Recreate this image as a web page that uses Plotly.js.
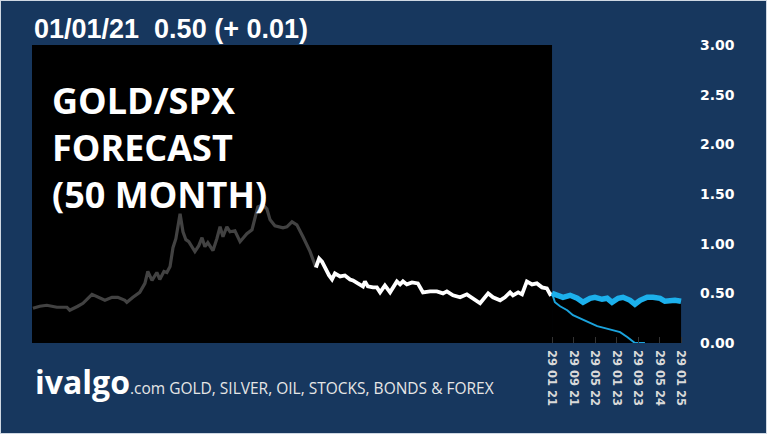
<!DOCTYPE html>
<html><head><meta charset="utf-8">
<script src="https://cdn.plot.ly/plotly-3.0.1.min.js"></script>
<style>html,body{margin:0;padding:0;background:#17375e;}#wrap{width:767px;height:434px;box-sizing:border-box;border:1px solid #cfd8e3;background:#17375e;}#chart{width:765px;height:432px;}</style>
</head><body><div id="wrap"><div id="chart"></div></div>
<script>
// decimal-year time stamps and GOLD/SPX ratio values
const histEarlyT = [2004.91,2005.12,2005.34,2005.65,2005.96,2006.05,2006.30,2006.46,2006.74,2006.92,2007.14,2007.36,2007.54,2007.76,2007.82,2008.01,2008.22,2008.38,2008.47,2008.60,2008.75,2008.84,2008.97,2009.06,2009.16,2009.25,2009.34,2009.47,2009.56,2009.65,2009.74,2009.93,2010.05,2010.15,2010.24,2010.33,2010.49,2010.61,2010.71,2010.80,2010.92,2011.02,2011.17,2011.33,2011.45,2011.54,2011.70,2011.79,2011.88,2012.04,2012.16,2012.26,2012.41,2012.66,2012.78,2012.94,2013.09,2013.28,2013.40,2013.50,2013.59,2013.68];
const histEarlyV = [0.35,0.37,0.38,0.36,0.36,0.33,0.37,0.40,0.49,0.46,0.43,0.46,0.46,0.43,0.41,0.46,0.51,0.60,0.72,0.63,0.71,0.64,0.72,0.71,0.77,0.96,1.05,1.30,1.12,1.04,1.02,0.92,0.98,1.06,0.97,1.01,0.93,1.05,1.17,1.07,1.17,1.12,1.13,1.02,1.06,1.10,1.14,1.27,1.37,1.39,1.35,1.24,1.18,1.16,1.17,1.22,1.19,1.07,0.99,0.92,0.84,0.76];
const histLateT = [2013.68,2013.78,2013.87,2013.96,2014.09,2014.18,2014.27,2014.43,2014.58,2014.74,2014.83,2014.98,2015.14,2015.20,2015.29,2015.45,2015.57,2015.67,2015.82,2015.98,2016.10,2016.19,2016.29,2016.38,2016.50,2016.66,2016.84,2017.00,2017.22,2017.43,2017.62,2017.74,2017.93,2018.15,2018.36,2018.55,2018.77,2019.02,2019.17,2019.39,2019.54,2019.70,2019.79,2019.95,2020.07,2020.22,2020.38,2020.53,2020.69,2020.84,2020.94,2021.00];
const histLateV = [0.76,0.85,0.82,0.76,0.68,0.64,0.70,0.67,0.68,0.64,0.63,0.60,0.57,0.62,0.57,0.56,0.56,0.51,0.58,0.51,0.57,0.62,0.59,0.62,0.59,0.61,0.60,0.51,0.52,0.52,0.50,0.52,0.48,0.46,0.49,0.45,0.40,0.50,0.46,0.43,0.46,0.51,0.48,0.51,0.49,0.62,0.59,0.60,0.56,0.55,0.49,0.50];
const fcUpperT = [2021.00,2021.19,2021.34,2021.56,2021.78,2021.96,2022.18,2022.33,2022.55,2022.71,2022.86,2023.05,2023.20,2023.42,2023.57,2023.73,2023.95,2024.13,2024.35,2024.50,2024.66,2024.81,2025.00];
const fcUpperV = [0.50,0.48,0.46,0.48,0.45,0.41,0.45,0.46,0.44,0.45,0.41,0.45,0.46,0.43,0.39,0.43,0.46,0.46,0.45,0.42,0.43,0.43,0.42];
const fcLowerT = [2021.00,2021.09,2021.25,2021.47,2021.65,2021.93,2022.18,2022.40,2022.64,2022.86,2023.11,2023.33,2023.57,2023.88];
const fcLowerV = [0.50,0.41,0.37,0.33,0.28,0.24,0.20,0.17,0.15,0.13,0.11,0.06,0.00,0.00];
const xTickVals = [2021.0,2021.667,2022.333,2023.0,2023.667,2024.333,2025.0];
const xTickText = ['29 01 21','29 09 21','29 05 22','29 01 23','29 09 23','29 05 24','29 01 25'];
const yTickVals = [0,0.5,1,1.5,2,2.5,3];
const yTickText = ['0.00','0.50','1.00','1.50','2.00','2.50','3.00'];
const xStart = 2004.88, xEnd = 2025.06, forecastStart = 2021.0;

const traces = [
  {x: fcUpperT, y: fcUpperV, mode:'lines', fill:'tozeroy', fillcolor:'#000000', line:{width:0, color:'rgba(0,0,0,0)'}, hoverinfo:'skip', showlegend:false},
  {x: histEarlyT, y: histEarlyV, mode:'lines', line:{color:'#424242', width:3.2}, showlegend:false},
  {x: histLateT, y: histLateV, mode:'lines', line:{color:'#ffffff', width:3.8}, showlegend:false},
  {x: fcLowerT, y: fcLowerV, mode:'lines', line:{color:'#1ba3dc', width:2}, showlegend:false},
  {x: fcUpperT, y: fcUpperV, mode:'lines', line:{color:'#1cb0ec', width:5.5}, showlegend:false}
];
const layout = {
  width:765, height:432,
  margin:{l:31, r:83, t:44, b:90},
  paper_bgcolor:'#17375e', plot_bgcolor:'#17375e',
  showlegend:false,
  xaxis:{type:'linear', range:[xStart,xEnd], tickvals:xTickVals, ticktext:xTickText, tickangle:90,
    tickfont:{family:'DejaVu Sans', size:11.5, color:'#d9d9d9', weight:700},
    showgrid:false, zeroline:false, showline:false, ticks:'inside', ticklen:6, tickcolor:'#333333',
    ticklabelstandoff:6, fixedrange:true},
  yaxis:{range:[0,3], side:'right', tickvals:yTickVals, ticktext:yTickText,
    tickfont:{family:'DejaVu Sans', size:14, color:'#ffffff', weight:700},
    showgrid:false, zeroline:false, showline:false, ticks:'', ticklabelstandoff:16, fixedrange:true},
  shapes:[{type:'rect', xref:'x', yref:'paper', x0:xStart, x1:forecastStart, y0:0, y1:1, fillcolor:'#000000', line:{width:0}, layer:'below'}],
  annotations:[
    {xref:'paper', yref:'paper', x:0.0, y:1.055, xanchor:'left', yanchor:'middle', showarrow:false,
     text:'01/01/21&nbsp;&nbsp;0.50 (+ 0.01)', font:{family:'Liberation Sans', size:27, color:'#ffffff', weight:700}},
    {xref:'paper', yref:'paper', x:0.027, y:(342-146)/298, xanchor:'left', yanchor:'middle', align:'left', showarrow:false,
     text:'GOLD/SPX<br>FORECAST<br>(50 MONTH)', font:{family:'Open Sans', size:36, color:'#ffffff', weight:700}},
    {xref:'paper', yref:'paper', x:(32-31)/651, y:(342-380)/298, xanchor:'left', yanchor:'middle', showarrow:false,
     text:'<b><span style="font-size:32px">ivalgo</span></b><span style="font-size:15.5px;color:#e6e6e6">.com GOLD, SILVER, OIL, STOCKS, BONDS &amp; FOREX</span>',
     font:{family:'Open Sans', size:16, color:'#ffffff'}}
  ]
};
Plotly.newPlot('chart', traces, layout, {staticPlot:true, displayModeBar:false});
</script></body></html>
